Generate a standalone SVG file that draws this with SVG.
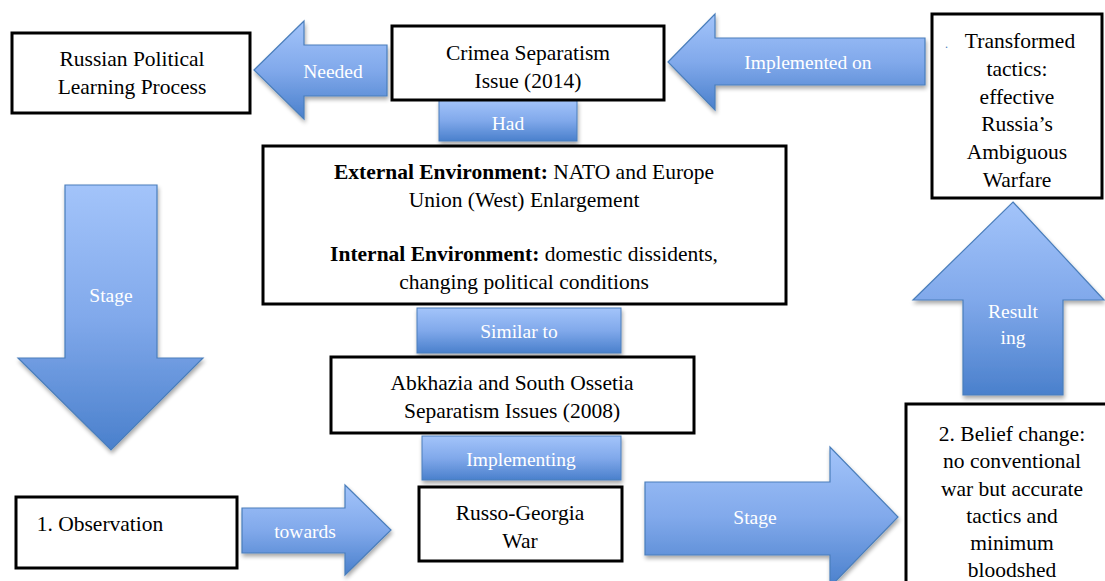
<svg xmlns="http://www.w3.org/2000/svg" width="1105" height="581" viewBox="0 0 1105 581" font-family="Liberation Serif, DejaVu Serif, serif">
<style>
.box{fill:#fff;stroke:#000;stroke-width:3}
.t{font-size:21.5px;fill:#000;text-anchor:middle}
.b{font-weight:bold}
.arr{fill:url(#g);stroke:#4a7ebb;stroke-width:1.2;filter:url(#sh)}
.lab{fill:url(#g);stroke:#4a7ebb;stroke-width:1;filter:url(#sh)}
.at{font-size:19.5px;fill:#fff;text-anchor:middle}
</style>
<defs>
<linearGradient id="g" x1="0" y1="0" x2="0" y2="1">
<stop offset="0" stop-color="#a3c4fa"/>
<stop offset="0.5" stop-color="#81a9eb"/>
<stop offset="1" stop-color="#4a80cc"/>
</linearGradient>
<filter id="sh" x="-10%" y="-10%" width="125%" height="125%">
<feGaussianBlur in="SourceAlpha" stdDeviation="2"/>
<feOffset dx="1" dy="3" result="o"/>
<feComponentTransfer><feFuncA type="linear" slope="0.35"/></feComponentTransfer>
<feMerge><feMergeNode/><feMergeNode in="SourceGraphic"/></feMerge>
</filter>
</defs>
<rect width="1105" height="581" fill="#fff"/>

<g id="connectors">
<g id="arrow-needed">
<path class="arr" d="M254,70 L304,21 L304,45 L387,45 L387,96 L304,96 L304,119 Z"/>
<text class="at" x="333" y="78" font-family="Liberation Serif, serif">Needed</text>
</g>
<g id="arrow-implemented">
<path class="arr" d="M668,62 L715,14 L715,38 L925,38 L925,85 L715,85 L715,110 Z"/>
<text class="at" x="808" y="69" font-family="Liberation Serif, serif">Implemented  on</text>
</g>
<g id="arrow-stage-down">
<path class="arr" d="M65,185 L157,185 L157,358 L203,358 L111,450 L18,358 L65,358 Z"/>
<text class="at" x="111" y="302" font-family="Liberation Serif, serif">Stage</text>
</g>
<g id="arrow-resulting">
<path class="arr" d="M1013,202 L1104,300 L1063,300 L1063,395 L963,395 L963,300 L913,300 Z"/>
<text class="at" x="1013" y="318" font-family="Liberation Serif, serif">Result</text>
<text class="at" x="1013" y="344" font-family="Liberation Serif, serif">ing</text>
</g>
<g id="arrow-towards">
<path class="arr" d="M242,508 L345,508 L345,485 L391,530 L345,575 L345,553 L242,553 Z"/>
<text class="at" x="305" y="538" font-family="Liberation Serif, serif">towards</text>
</g>
<g id="arrow-stage-right">
<path class="arr" d="M645,482 L830,482 L830,447 L898,517 L830,587 L830,555 L645,555 Z"/>
<text class="at" x="755" y="524" font-family="Liberation Serif, serif">Stage</text>
</g>
<g id="label-had">
<rect class="lab" x="439" y="100" width="138" height="41"/>
<text class="at" x="508" y="130" font-family="Liberation Serif, serif">Had</text>
</g>
<g id="label-similar">
<rect class="lab" x="417" y="308" width="204" height="45"/>
<text class="at" x="519" y="338" font-family="Liberation Serif, serif">Similar to</text>
</g>
<g id="label-implementing">
<rect class="lab" x="422" y="436" width="199" height="44"/>
<text class="at" x="521" y="466" font-family="Liberation Serif, serif">Implementing</text>
</g>
</g>

<g id="node-russian" font-family="Liberation Serif, serif">
<rect class="box" x="12" y="33" width="238" height="80"/>
<text class="t" x="132" y="66">Russian Political</text>
<text class="t" x="132" y="94">Learning Process</text>
</g>
<g id="node-crimea" font-family="Liberation Serif, serif">
<rect class="box" x="392" y="26" width="272" height="74"/>
<text class="t" x="528" y="60">Crimea Separatism</text>
<text class="t" x="528" y="88">Issue (2014)</text>
</g>
<g id="node-transformed" font-family="Liberation Serif, serif">
<rect class="box" x="932" y="14" width="170" height="184"/>
<text x="945" y="48" font-size="12" fill="#4a7ebb">.</text>
<text class="t" x="1020" y="48">Transformed</text>
<text class="t" x="1017" y="76">tactics:</text>
<text class="t" x="1017" y="104">effective</text>
<text class="t" x="1017" y="131">Russia’s</text>
<text class="t" x="1017" y="159">Ambiguous</text>
<text class="t" x="1017" y="187">Warfare</text>
</g>
<g id="node-environment" font-family="Liberation Serif, serif">
<rect class="box" x="263" y="146" width="523" height="158"/>
<text class="t" x="524" y="179"><tspan class="b">External Environment:</tspan> NATO and Europe</text>
<text class="t" x="524" y="207">Union (West) Enlargement</text>
<text class="t" x="524" y="261"><tspan class="b">Internal Environment:</tspan> domestic dissidents,</text>
<text class="t" x="524" y="289">changing political conditions</text>
</g>
<g id="node-abkhazia" font-family="Liberation Serif, serif">
<rect class="box" x="331" y="357" width="363" height="76"/>
<text class="t" x="512" y="390">Abkhazia and South Ossetia</text>
<text class="t" x="512" y="418">Separatism Issues (2008)</text>
</g>
<g id="node-russo" font-family="Liberation Serif, serif">
<rect class="box" x="419" y="487" width="203" height="74"/>
<text class="t" x="520" y="520">Russo-Georgia</text>
<text class="t" x="520" y="548">War</text>
</g>
<g id="node-observation" font-family="Liberation Serif, serif">
<rect class="box" x="16" y="497" width="221" height="71"/>
<text class="t" x="100" y="531">1. Observation</text>
</g>
<g id="node-belief" font-family="Liberation Serif, serif">
<rect class="box" x="906" y="404" width="205" height="190"/>
<text class="t" x="1012" y="441">2. Belief change:</text>
<text class="t" x="1012" y="468">no conventional</text>
<text class="t" x="1012" y="496">war but accurate</text>
<text class="t" x="1012" y="523">tactics and</text>
<text class="t" x="1012" y="550">minimum</text>
<text class="t" x="1012" y="577">bloodshed</text>
</g>
</svg>
